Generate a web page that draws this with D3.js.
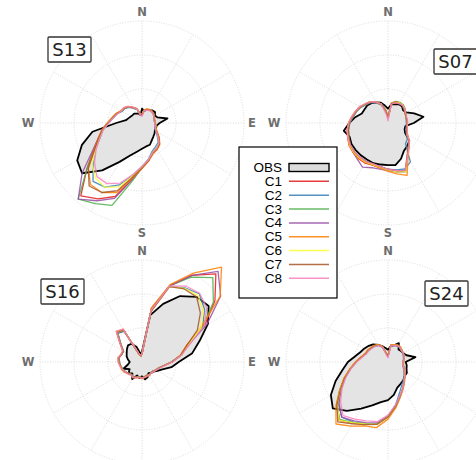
<!DOCTYPE html>
<html>
<head>
<meta charset="utf-8">
<script src="https://cdn.jsdelivr.net/npm/d3@7"></script>
<style>
body{margin:0;background:#fff;}
</style>
</head>
<body>
<svg id="chart" width="476" height="460"></svg>
<script>
// direction bins (degrees, clockwise from north)
const bearings = [0,10,20,30,40,50,60,70,80,90,100,110,120,130,140,150,160,170,
	180,190,200,210,220,230,240,250,260,270,280,290,300,310,320,330,340,350];
const seriesNames = ["OBS","C1","C2","C3","C4","C5","C6","C7","C8"];
const modelColors = ["#e41a1c","#377eb8","#4daf4a","#984ea3","#ff7f00","#ffff33","#a65628","#f781bf"];
const ringValues = [5,10,15];
const spokeAngles = [0,30,60,90,120,150,180,210,240,270,300,330];
const compassLabels = ["N","E","S","W"];

// frequency (%) per direction bin
const obsS13 = [2.1,1.8,2.1,2.2,2.4,2.5,2.2,2.4,3.8,2.6,2.2,2.2,2.2,2.4,2.6,2.9,3.4,3.5,
	3.8,4.3,5.1,6.6,9.1,11.5,11.0,9.4,7.4,3.8,2.4,2.1,1.9,1.8,1.8,1.6,1.5,1.2];
const modS13 = [
	[1.2,1.9,2.1,2.2,2.3,2.2,2.1,1.9,1.9,1.9,2.0,2.1,2.5,3.2,4.0,4.3,4.6,5.5,6.5,8.4,11.5,12.9,14.0,10.6,8.3,6.9,5.9,5.0,4.4,4.0,3.5,3.4,3.1,2.6,2.2,1.3],
	[1.1,1.9,2.0,2.2,2.2,2.1,2.0,1.9,1.8,1.9,2.0,2.0,2.3,2.9,3.7,4.0,4.4,5.4,6.4,7.8,9.7,10.9,11.2,9.4,7.9,6.6,5.8,4.9,4.3,3.9,3.4,3.3,3.0,2.5,2.1,1.2],
	[1.2,2.0,2.1,2.2,2.2,2.2,2.1,1.9,1.9,1.9,2.1,2.1,2.4,3.1,3.9,4.3,4.6,5.6,6.6,8.8,12.9,13.7,14.6,10.6,8.2,6.8,5.9,5.0,4.4,4.0,3.5,3.4,3.1,2.6,2.2,1.3],
	[1.2,1.9,2.1,2.2,2.2,2.2,2.1,1.9,1.9,1.9,2.1,2.1,2.5,3.2,3.9,4.4,4.7,5.6,6.6,8.5,11.8,13.2,14.6,11.5,8.5,6.9,6.0,5.1,4.4,4.0,3.5,3.4,3.1,2.6,2.2,1.3],
	[1.3,2.0,2.2,2.3,2.3,2.2,2.1,2.0,1.9,2.0,2.1,2.2,2.6,3.3,4.1,4.5,4.8,5.7,6.7,8.3,10.9,11.8,11.8,10.3,8.2,6.9,6.0,5.1,4.5,4.1,3.6,3.5,3.2,2.7,2.3,1.4],
	[1.2,1.9,2.1,2.2,2.2,2.2,2.1,1.9,1.9,1.9,2.1,2.1,2.5,3.1,3.9,4.3,4.6,5.5,6.5,7.9,10.0,10.9,10.6,9.6,7.9,6.7,5.8,5.0,4.4,4.0,3.5,3.4,3.1,2.6,2.2,1.3],
	[1.2,1.9,2.1,2.2,2.2,2.2,2.1,1.9,1.9,1.9,2.1,2.1,2.5,3.2,4.0,4.4,4.7,5.6,6.6,8.1,10.6,11.8,12.1,10.3,8.1,6.8,5.9,5.0,4.4,4.0,3.5,3.4,3.1,2.6,2.2,1.3],
	[1.0,1.8,2.0,2.1,2.2,2.1,2.0,1.9,1.8,1.9,2.0,2.1,2.4,3.1,3.9,4.3,4.6,5.5,6.4,7.7,9.4,10.3,10.3,9.1,7.8,6.6,5.8,4.9,4.3,3.9,3.5,3.5,3.2,2.7,2.2,1.1]
];

const obsS07 = [2.1,2.8,2.9,3.2,3.2,2.9,3.1,4.1,5.3,3.8,2.6,2.6,2.9,4.1,4.4,4.7,5.6,6.3,
	6.2,6.2,6.3,6.2,6.2,6.2,6.2,6.0,6.6,5.7,4.9,4.1,4.0,4.0,3.8,3.5,3.2,2.6];
const modS07 = [
	[0.8,2.9,3.3,3.4,3.4,3.2,3.0,2.8,2.8,2.8,2.8,2.9,3.2,4.0,4.7,5.8,7.5,7.2,6.9,6.7,6.6,6.8,6.8,6.7,6.6,6.3,6.1,5.8,5.4,5.0,4.7,4.3,4.0,3.5,2.9,1.8],
	[0.8,2.8,3.2,3.3,3.3,3.1,2.9,2.8,2.7,2.7,2.7,2.8,3.1,3.7,4.0,6.6,7.2,7.0,6.8,6.5,6.4,6.5,6.5,6.5,6.4,6.1,5.9,5.6,5.2,4.9,4.6,4.2,3.9,3.4,2.8,1.7],
	[0.9,3.0,3.4,3.5,3.5,3.3,3.0,2.8,2.8,2.8,2.8,2.9,3.2,4.0,4.7,5.7,7.6,7.3,6.9,6.6,6.5,6.6,6.6,6.6,6.5,6.2,6.0,5.7,5.3,5.0,4.7,4.3,4.1,3.6,3.0,1.9],
	[0.7,2.9,3.2,3.4,3.4,3.2,2.9,2.8,2.8,2.8,2.8,2.9,3.2,4.0,4.7,5.7,7.6,7.3,7.0,6.9,7.0,7.5,7.0,6.7,6.5,6.2,6.0,5.7,5.3,5.0,4.7,4.3,4.0,3.5,2.9,1.8],
	[0.8,3.0,3.3,3.4,3.4,3.2,2.9,2.8,2.8,2.8,2.9,3.0,3.3,4.1,4.8,5.9,8.2,7.6,7.1,6.7,6.6,6.7,6.8,6.7,6.6,6.3,6.1,5.8,5.4,5.1,4.8,4.4,4.1,3.6,3.0,1.8],
	[0.7,2.9,3.2,3.4,3.4,3.2,2.9,2.8,2.8,2.8,2.8,2.9,3.2,4.0,4.7,5.7,7.6,7.3,6.9,6.6,6.5,6.6,6.6,6.6,6.5,6.2,6.0,5.7,5.3,5.0,4.7,4.3,4.0,3.5,2.9,1.8],
	[0.8,2.9,3.2,3.3,3.3,3.1,2.9,2.8,2.8,2.8,2.8,2.9,3.2,4.0,4.6,5.6,7.4,7.1,6.8,6.5,6.4,6.5,6.5,6.5,6.4,6.1,5.9,5.7,5.3,5.0,4.7,4.3,4.0,3.5,2.9,1.8],
	[0.3,2.8,3.2,3.3,3.4,3.2,3.0,2.9,2.9,2.9,2.9,3.0,3.3,4.1,4.8,5.7,7.4,7.1,6.8,6.5,6.4,6.5,6.5,6.5,6.4,6.3,6.1,5.8,5.4,5.1,4.8,4.4,4.1,3.6,3.0,1.2]
];

const obsS16 = [1.5,7.0,9.1,11.2,12.5,12.8,11.2,9.0,7.5,5.4,4.4,3.2,2.6,2.2,2.1,1.9,2.4,2.6,
	2.1,2.4,2.1,2.9,2.2,2.6,2.1,2.9,2.1,1.8,2.1,2.4,2.6,2.9,3.2,3.1,2.4,1.2];
const modS16 = [
	[1.2,8.0,12.0,14.7,16.9,14.0,10.6,7.0,5.9,4.4,3.2,2.6,2.4,2.1,2.1,2.2,2.1,2.2,2.4,2.2,2.4,2.6,2.4,2.6,2.9,3.1,3.2,3.4,3.5,3.2,3.2,4.1,5.6,5.3,1.2,0.9],
	[1.2,7.6,11.8,12.6,13.1,12.0,10.3,7.3,5.8,4.3,3.2,2.6,2.3,2.1,2.0,2.2,2.1,2.2,2.3,2.2,2.4,2.5,2.4,2.6,2.8,3.0,3.2,3.3,3.4,3.2,3.1,4.0,5.5,5.2,1.1,0.9],
	[1.2,7.9,11.9,14.4,16.2,13.7,10.3,7.0,5.9,4.4,3.2,2.6,2.4,2.1,2.1,2.2,2.1,2.2,2.4,2.2,2.4,2.6,2.4,2.6,2.9,3.1,3.2,3.4,3.5,3.2,3.2,4.1,5.7,5.4,1.2,0.9],
	[1.2,7.9,11.9,14.7,17.4,15.1,11.0,7.2,5.9,4.4,3.2,2.6,2.4,2.1,2.1,2.2,2.1,2.2,2.4,2.2,2.4,2.6,2.4,2.6,2.9,3.1,3.2,3.4,3.5,3.2,3.2,4.2,5.8,5.4,1.2,0.9],
	[1.2,8.1,12.1,15.1,18.2,15.0,9.9,6.9,5.7,4.4,3.3,2.7,2.4,2.2,2.1,2.3,2.2,2.3,2.5,2.3,2.5,2.7,2.5,2.7,3.0,3.2,3.3,3.5,3.6,3.3,3.3,4.2,5.9,5.6,1.2,0.9],
	[1.2,7.6,11.8,12.5,12.8,11.8,10.0,7.2,5.9,4.4,3.2,2.6,2.4,2.1,2.1,2.2,2.1,2.2,2.4,2.2,2.4,2.6,2.4,2.6,2.9,3.1,3.2,3.4,3.5,3.2,3.2,4.1,5.7,5.4,1.2,0.9],
	[1.2,7.5,11.8,12.4,12.5,11.2,9.4,7.0,5.8,4.4,3.2,2.6,2.4,2.1,2.1,2.2,2.1,2.2,2.4,2.2,2.4,2.6,2.4,2.6,2.9,3.1,3.2,3.4,3.5,3.2,3.2,4.1,5.7,5.4,1.2,0.9],
	[1.2,7.7,11.9,12.9,13.2,12.4,10.6,7.4,5.9,4.5,3.3,2.7,2.4,2.2,2.1,2.2,2.2,2.3,2.4,2.3,2.5,2.6,2.5,2.7,2.9,3.1,3.3,3.5,3.6,3.3,3.3,4.2,5.9,5.6,1.3,1.0]
];

const obsS24 = [1.8,2.4,2.6,3.2,2.4,2.5,2.6,2.9,4.1,2.6,2.8,2.9,3.2,3.2,3.5,3.7,4.0,4.9,
	5.6,6.0,6.8,7.9,9.4,10.6,9.7,8.2,6.8,5.9,4.9,4.3,4.0,3.7,3.4,2.9,2.5,2.1];
const modS24 = [
	[0.9,2.5,2.6,2.8,2.8,2.6,2.6,2.5,2.4,2.2,2.2,2.5,2.8,3.2,3.7,4.4,5.3,6.6,8.1,9.3,9.7,10.4,11.2,9.7,8.1,6.8,5.6,4.7,4.0,3.5,3.4,3.2,3.1,2.9,2.4,1.2],
	[0.9,2.5,2.6,2.7,2.7,2.6,2.5,2.4,2.3,2.2,2.2,2.4,2.7,3.1,3.5,4.0,4.9,6.4,8.0,9.2,9.6,10.2,10.6,9.5,8.0,6.7,5.6,4.7,4.0,3.5,3.3,3.2,3.0,2.8,2.3,1.1],
	[0.9,2.5,2.7,2.8,2.8,2.7,2.6,2.5,2.4,2.3,2.3,2.5,2.8,3.2,3.7,4.4,5.3,6.6,8.1,9.3,9.7,10.3,11.0,9.9,8.2,6.8,5.6,4.7,4.0,3.5,3.4,3.2,3.1,2.9,2.4,1.2],
	[0.9,2.5,2.6,2.8,2.8,2.6,2.6,2.5,2.4,2.2,2.2,2.5,2.8,3.2,3.7,4.4,5.3,6.6,8.0,9.1,9.5,10.0,10.6,9.4,8.0,6.7,5.6,4.7,4.0,3.5,3.4,3.2,3.1,2.9,2.4,1.2],
	[1.0,2.6,2.7,2.9,2.9,2.7,2.6,2.5,2.4,2.3,2.3,2.5,2.9,3.3,3.8,4.5,5.4,6.8,8.4,9.8,10.0,10.9,11.9,10.0,8.2,6.9,5.7,4.8,4.1,3.6,3.5,3.3,3.2,3.0,2.5,1.3],
	[0.9,2.5,2.6,2.8,2.8,2.6,2.6,2.5,2.4,2.2,2.2,2.5,2.8,3.2,3.7,4.4,5.3,6.6,8.1,9.3,9.7,10.3,11.2,9.7,8.1,6.8,5.6,4.7,4.0,3.5,3.4,3.2,3.1,2.9,2.4,1.2],
	[0.9,2.5,2.6,2.8,2.8,2.6,2.6,2.5,2.4,2.2,2.2,2.5,2.8,3.2,3.7,4.4,5.3,6.6,8.1,9.3,9.8,10.5,11.5,9.8,8.1,6.8,5.6,4.7,4.0,3.5,3.4,3.2,3.1,2.9,2.4,1.2],
	[0.6,2.4,2.6,2.8,2.8,2.6,2.6,2.5,2.4,2.2,2.2,2.5,2.8,3.2,3.7,4.4,5.2,6.4,7.8,8.9,9.2,9.7,10.3,9.1,7.8,6.6,5.5,4.6,3.9,3.4,3.3,3.1,3.0,2.8,2.3,0.9]
];

const stations = ["S13","S07","S16","S24"];
const obsByStation = [obsS13, obsS07, obsS16, obsS24];
const modByStation = [modS13, modS07, modS16, modS24];

// layout
const W = 476, H = 460;
const panels = [
	{cx:142, cy:123, box:[48,37]},
	{cx:388, cy:123, box:[434,49]},
	{cx:142, cy:362, box:[41,279]},
	{cx:388, cy:362, box:[425,281]}
];

const svg = d3.select("#chart");
const r = d3.scaleLinear().domain([0,15]).range([0,102]);
const rad = d => d * Math.PI / 180;

const radial = d3.lineRadial()
	.angle((d,i) => rad(bearings[i]))
	.radius(d => r(d))
	.curve(d3.curveLinearClosed);

function drawGrid(g,p){
	g.selectAll("circle.ring").data(ringValues).enter().append("circle")
		.attr("class","ring")
		.attr("r", d => r(d))
		.attr("fill","none")
		.attr("stroke","#d6d6d6")
		.attr("stroke-width",0.9)
		.attr("stroke-dasharray","1,1.6");
	g.selectAll("line.spoke").data(spokeAngles).enter().append("line")
		.attr("class","spoke")
		.attr("x1",0).attr("y1",0)
		.attr("x2", d => r(15) * Math.sin(rad(d)))
		.attr("y2", d => -r(15) * Math.cos(rad(d)))
		.attr("stroke","#d6d6d6")
		.attr("stroke-width",0.9)
		.attr("stroke-dasharray","1,1.6");
	// compass letters, only those that fall on the page
	const off = [111,110,110,114];
	const pos = compassLabels.map((d,i) => ({
		t: d,
		x: off[i] * Math.sin(rad(i*90)),
		y: -off[i] * Math.cos(rad(i*90))
	})).filter(d => p.cx + d.x < W - 4 && p.cy + d.y < H - 4);
	g.selectAll("text.compass").data(pos).enter().append("text")
		.attr("class","compass")
		.text(d => d.t)
		.attr("x", d => d.x)
		.attr("y", d => d.y)
		.attr("text-anchor","middle")
		.attr("dominant-baseline","central")
		.attr("font-family","DejaVu Sans")
		.attr("font-weight","bold")
		.attr("font-size",11.5)
		.attr("fill","#6e6e6e");
}

function drawPanel(k){
	const p = panels[k];
	const g = svg.append("g").attr("transform","translate(" + p.cx + "," + p.cy + ")");
	drawGrid(g,p);
	g.append("path")
		.attr("d", radial(obsByStation[k]))
		.attr("fill","#e4e4e4")
		.attr("stroke","none");
	g.append("path")
		.attr("d", radial(obsByStation[k]))
		.attr("fill","none")
		.attr("stroke","#000")
		.attr("stroke-width",1.8)
		.attr("stroke-linejoin","round");
	modByStation[k].forEach(function(vals,j){
		g.append("path")
			.attr("d", radial(vals))
			.attr("fill","none")
			.attr("stroke",modelColors[j])
			.attr("stroke-opacity",0.85)
			.attr("stroke-width",1.3)
			.attr("stroke-linejoin","round");
	});
}

function drawStationLabel(k){
	const b = panels[k].box;
	svg.append("rect")
		.attr("x",b[0]).attr("y",b[1])
		.attr("width",43).attr("height",25)
		.attr("fill","#fff")
		.attr("stroke","#333")
		.attr("stroke-width",1.3)
		.attr("rx",1);
	svg.append("text")
		.text(stations[k])
		.attr("x",b[0] + 21.5)
		.attr("y",b[1] + 12.5)
		.attr("text-anchor","middle")
		.attr("dominant-baseline","central")
		.attr("font-family","DejaVu Sans")
		.attr("font-size",18)
		.attr("fill","#222");
}

function makeLegend(){
	const lg = svg.append("g");
	lg.append("rect")
		.attr("x",239).attr("y",147)
		.attr("width",98).attr("height",151)
		.attr("fill","#fff")
		.attr("stroke","#000")
		.attr("stroke-width",1.2);
	seriesNames.forEach(function(name,i){
		const y = 167.5 + i * 13.85;
		lg.append("text")
			.text(name)
			.attr("x",282)
			.attr("y",y)
			.attr("text-anchor","end")
			.attr("dominant-baseline","central")
			.attr("font-family","Liberation Sans, Arial, sans-serif")
			.attr("font-size",13.5)
			.attr("fill","#000");
		if(i === 0){
			lg.append("rect")
				.attr("x",289).attr("y",y - 4)
				.attr("width",40).attr("height",8)
				.attr("fill","#dcdcdc")
				.attr("stroke","#000")
				.attr("stroke-width",1.4);
		} else {
			lg.append("line")
				.attr("x1",289).attr("x2",329)
				.attr("y1",y).attr("y2",y)
				.attr("stroke",modelColors[i-1])
				.attr("stroke-opacity",0.85)
				.attr("stroke-width",1.5);
		}
	});
}

stations.forEach(function(s,k){ drawPanel(k); });
stations.forEach(function(s,k){ drawStationLabel(k); });
makeLegend();
</script>
</body>
</html>
